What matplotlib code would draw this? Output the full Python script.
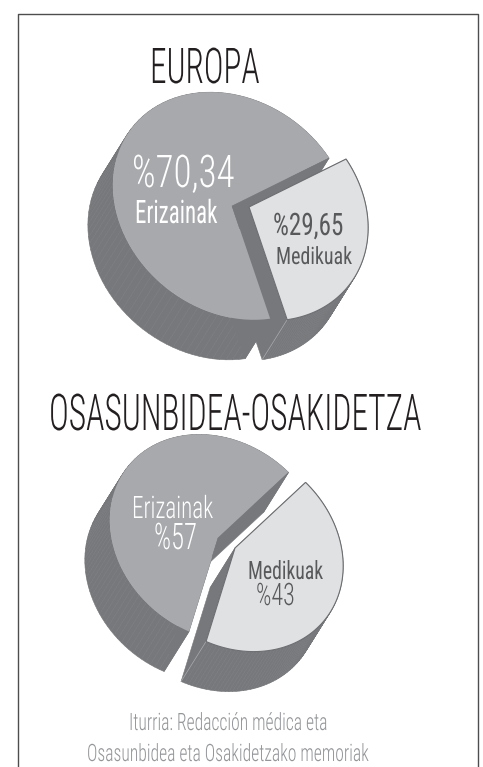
import numpy as np
import matplotlib
matplotlib.use('Agg')
import matplotlib.pyplot as plt
from matplotlib.patches import Polygon
from matplotlib.patheffects import AbstractPathEffect
from matplotlib.transforms import Affine2D

# values as printed on the chart
labels = ['Erizainak', 'Medikuak']
europa = [70.34, 29.65]
osasun = [57, 43]
titles = ['EUROPA', 'OSASUNBIDEA-OSAKIDETZA']
source = ['Iturria: Redacción médica eta', 'Osasunbidea eta Osakidetzako memoriak']

GREY = '#a7a9ac'
DARK = '#77787b'
LIGHT = '#e0e1e3'
EDGE = '#6d6e71'
INK = '#58595b'
PHI = np.radians(38)
DEPTH = np.array([-25, 40])


class Stretch(AbstractPathEffect):
    '''Stretch the drawn glyphs upward from the baseline, the font has no tall narrow cut.'''

    def __init__(self, y0, sy):
        super().__init__()
        self.y0, self.sy = y0, sy

    def draw_path(self, renderer, gc, tpath, affine, rgbFace=None):
        stretch = Affine2D().translate(0, -self.y0).scale(1, self.sy).translate(0, self.y0)
        renderer.draw_path(gc, tpath, affine + stretch, rgbFace)


def arc(centre, a, b, t0, t1, n=80):
    '''Points on the tilted ellipse from t0 to t1 (degrees).'''
    t = np.radians(np.linspace(t0, t1, n))
    u, v = a * np.cos(t), b * np.sin(t)
    x = u * np.cos(PHI) - v * np.sin(PHI)
    y = u * np.sin(PHI) + v * np.cos(PHI)
    return np.column_stack([centre[0] + x, centre[1] + y])


def extrude(ax, pts, color, z):
    '''Side wall of a slice: every edge swept along DEPTH.'''
    for p, q in zip(pts, np.roll(pts, -1, axis=0)):
        ax.add_patch(Polygon([p, q, q + DEPTH, p + DEPTH], fc=color, ec=color, lw=0.4, zorder=z))


def pie(ax, values, c1, c2, a, b, start, wall):
    total = sum(values)
    end = start - 360 * values[0] / total
    p1 = np.vstack([c1, arc(c1, a, b, start, end)])
    p2 = np.vstack([c2, arc(c2, a, b, end, start - 360)])
    extrude(ax, p1, DARK, 1)
    extrude(ax, p2, DARK, 2)
    # inner wall along the upper cut
    ax.add_patch(Polygon([p1[0], p1[1], p1[0] + wall * (p1[-1] - p1[0])], fc=DARK, ec=DARK, lw=0.4, zorder=3))
    ax.add_patch(Polygon(p1, fc=GREY, ec='none', zorder=2.5))
    ax.add_patch(Polygon(p2, fc=LIGHT, ec=EDGE, lw=0.8, joinstyle='miter', zorder=4))
    # seam on the outside of the light slice
    ax.plot([p2[1][0], p2[1][0] + DEPTH[0]], [p2[1][1], p2[1][1] + DEPTH[1]], color=GREY, lw=0.5, zorder=3.5)


def label(ax, x0, x1, base, cap, s, color, weight=300):
    '''Text from x0 to x1 on baseline base, with capitals cap pixels high.'''
    t = ax.text(x0, base, s, fontsize=10, color=color, family='Roboto Condensed', weight=weight,
                ha='left', va='baseline', zorder=6)
    width = t.get_window_extent(fig.canvas.get_renderer()).width
    size = 10 * (x1 - x0) / width
    t.set_fontsize(size)
    sy = cap / (0.711 * size * fig.dpi / 72)
    t.set_path_effects([Stretch(ax.transData.transform((x0, base))[1], sy)])


fig = plt.figure(figsize=(4.83, 7.67), dpi=100)
ax = fig.add_axes([0, 0, 1, 1])
ax.set_xlim(0, 483)
ax.set_ylim(767, 0)
ax.axis('off')

# frame runs off the bottom of the picture
ax.plot([18, 18, 478, 478], [767, 13.5, 13.5, 767], color='#4d4d4f', lw=1.0, zorder=0)

pie(ax, europa, np.array([232, 206]), np.array([249, 207]), 127, 105, -68.3, 0.2)
pie(ax, osasun, np.array([218, 538]), np.array([235, 548]), 115, 96, -82.4, 0.2)

label(ax, 150, 259, 83, 35, titles[0], '#231f20')
label(ax, 132, 235, 187, 32, '%' + str(europa[0]).replace('.', ','), 'white')
label(ax, 135, 217, 223, 23, labels[0], 'white', 400)
label(ax, 273, 343, 235, 22, '%' + str(europa[1]).replace('.', ','), INK, 400)
label(ax, 276, 352, 264, 17, labels[1], INK, 400)
label(ax, 49, 420, 430, 36, titles[1], '#231f20')
label(ax, 132, 213, 518, 22, labels[0], 'white')
label(ax, 154, 197, 549, 26, '%' + str(osasun[0]), 'white')
label(ax, 248, 323, 579, 18, labels[1], INK, 400)
label(ax, 256, 295, 605, 22, '%' + str(osasun[1]), INK)
label(ax, 129, 327, 730, 17, source[0], '#939598')
label(ax, 87, 369, 761, 17, source[1], '#939598')

fig.savefig('out.png', dpi=100)
